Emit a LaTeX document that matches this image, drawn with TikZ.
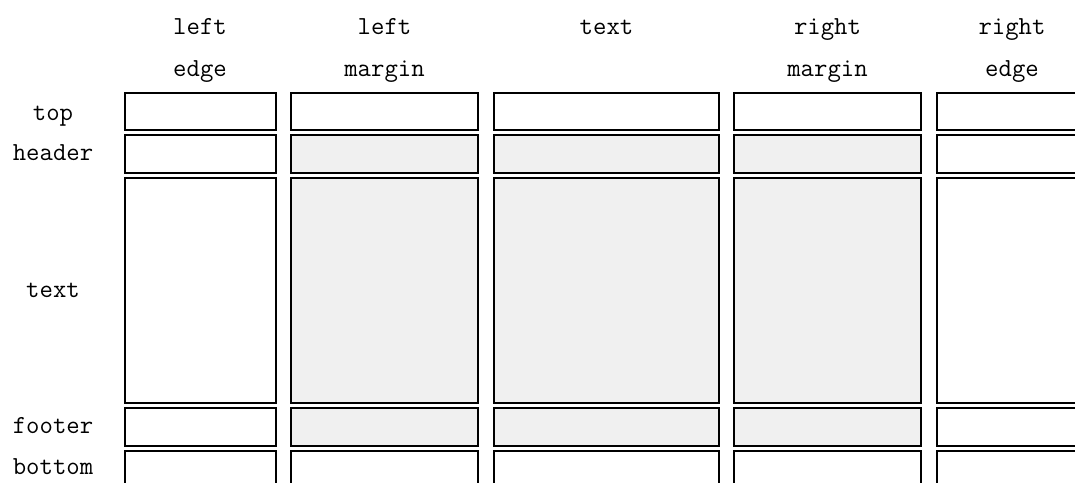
\documentclass[tikz,border=0pt]{standalone}
\usepackage{tikz}

\begin{document}
\begin{tikzpicture}[x=1pt,y=-1pt,
  cell/.style={draw=black,line width=2.2pt},
  lbl/.style={font=\fontsize{26}{30}\selectfont\ttfamily,anchor=base,inner sep=0pt}]
\useasboundingbox (0,0) rectangle (1075,482);
\clip (0,0) rectangle (1075,482);
\foreach \xa/\xb/\c in {124/277/1,290/479/2,493/720/3,733/922/4,936/1088/5}
  \foreach \ya/\yb/\r in {92/131/1,134/174/2,177/404/3,407/447/4,450/488/5}
  {\pgfmathtruncatemacro\sh{and(\c>1,\c<5)*and(\r>1,\r<5)}
   \ifnum\sh=1 \def\fc{black!6}\else\def\fc{white}\fi
   \draw[cell,fill=\fc] (\xa+1.1,\ya+1.1) rectangle (\xb-1.1,\yb-1.1);}
\node[lbl] (leftA) at (200,34) {left};
\node[lbl] (leftB) at (200,76) {edge};
\node[lbl] (lmargA) at (384.5,34) {left};
\node[lbl] (lmargB) at (384.5,76) {margin};
\node[lbl] (textcol) at (606.5,34) {text};
\node[lbl] (rmargA) at (827.5,34) {right};
\node[lbl] (rmargB) at (827.5,76) {margin};
\node[lbl] (rightA) at (1012,34) {right};
\node[lbl] (rightB) at (1012,76) {edge};
\node[lbl] (toprow) at (53,120) {top};
\node[lbl] (headrow) at (53,160) {header};
\node[lbl] (textrow) at (53,297) {text};
\node[lbl] (footrow) at (53,433) {footer};
\node[lbl] (botrow) at (53,474) {bottom};
\end{tikzpicture}
\end{document}
